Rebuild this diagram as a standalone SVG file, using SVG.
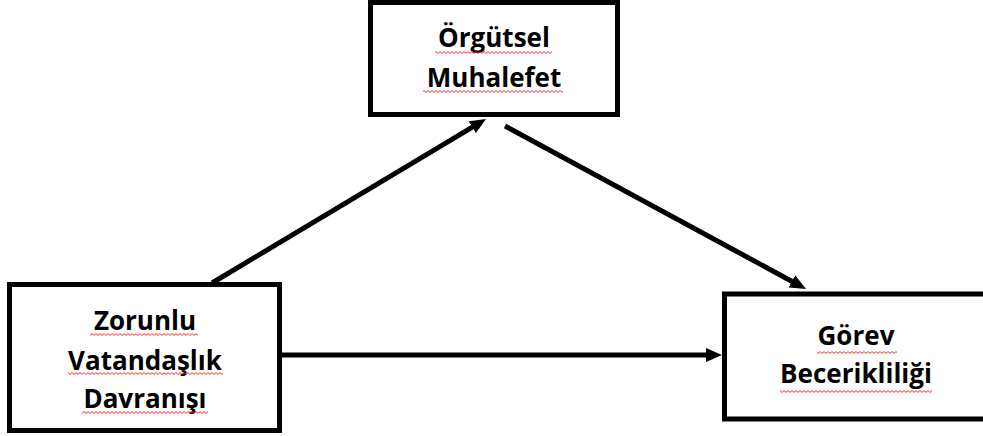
<svg xmlns="http://www.w3.org/2000/svg" width="983" height="436" viewBox="0 0 983 436">
<style>
.box{fill:#fff;stroke:#000;stroke-width:5}
.lbl{font-family:"Open Sans","Liberation Sans",sans-serif;font-weight:bold;font-size:26px;fill:#000;text-anchor:middle}
.conn{stroke:#000;stroke-width:5;fill:none;marker-end:url(#ah)}
.sq{fill:url(#wave)}
</style>
<defs>
<marker id="ah" viewBox="0 0 16 14" refX="6" refY="7" markerWidth="16" markerHeight="14" markerUnits="userSpaceOnUse" orient="auto">
<path d="M0,0 L16,7 L0,14 z" fill="#000"/>
</marker>
<pattern id="wave" patternUnits="userSpaceOnUse" width="4" height="3">
<path d="M0,0.6 L2,2.4 L4,0.6" stroke="#ff2a2a" stroke-width="1" fill="none"/>
</pattern>
</defs>
<rect width="983" height="436" fill="#fff"/>
<g id="connectors">
<line class="conn" x1="212" y1="283" x2="477.4" y2="124.1"/>
<line class="conn" x1="505" y1="126" x2="797.2" y2="284.2"/>
<line class="conn" x1="282" y1="355" x2="712" y2="355"/>
</g>
<g id="node-orgutsel">
<rect class="box" x="370.5" y="2.5" width="247" height="112"/>
<text class="lbl" x="494" y="47">Örgütsel</text>
<text class="lbl" x="494" y="87">Muhalefet</text>
<rect class="sq" x="435" y="51" width="117" height="3"/>
<rect class="sq" x="423" y="90" width="140" height="3"/>
</g>
<g id="node-zorunlu">
<rect class="box" x="9.5" y="284.5" width="270" height="146"/>
<text class="lbl" x="145" y="330">Zorunlu</text>
<text class="lbl" x="145" y="370">Vatandaşlık</text>
<text class="lbl" x="145" y="408">Davranışı</text>
<rect class="sq" x="90" y="333" width="108" height="3"/>
<rect class="sq" x="68" y="372" width="155" height="3"/>
<rect class="sq" x="82" y="411" width="126" height="3"/>
</g>
<g id="node-gorev">
<rect class="box" x="724.5" y="294" width="270" height="125"/>
<text class="lbl" x="856" y="345">Görev</text>
<text class="lbl" x="856" y="383">Becerikliliği</text>
<rect class="sq" x="817" y="351" width="80" height="3"/>
<rect class="sq" x="780" y="390" width="152" height="3"/>
</g>
</svg>
